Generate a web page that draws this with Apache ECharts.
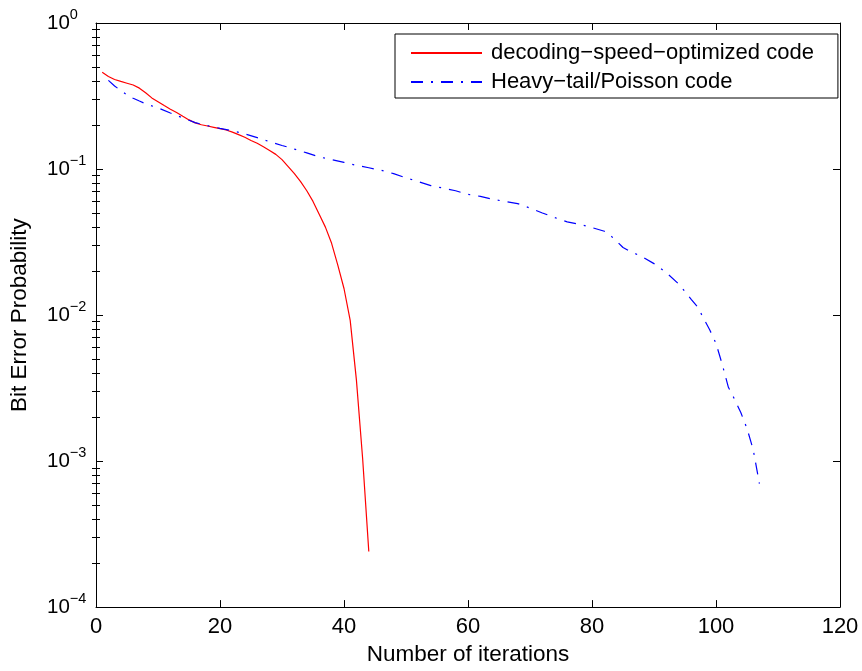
<!DOCTYPE html>
<html><head><meta charset="utf-8">
<script src="https://cdn.jsdelivr.net/npm/echarts@6/dist/echarts.min.js"></script>
<style>html,body{margin:0;padding:0;background:#fff}#c{width:862px;height:671px}</style>
</head><body><div id="c"></div>
<script>
const seriesNames = ['decoding\u2212speed\u2212optimized code', 'Heavy\u2212tail/Poisson code'];

const redX = [1,2,3,4,5,6,7,8,9,10,11,12,13,14,15,16,17,18,19,20,21,22,23,24,25,26,27,28,29,30,31,32,33,34,35,36,37,38,39,40,41,42,43,44];
const redY = [0.46,0.43,0.41,0.398,0.387,0.376,0.358,0.333,0.307,0.289,0.272,0.257,0.244,0.23,0.217,0.207,0.201,0.197,0.193,0.189,0.185,0.179,0.172,0.165,0.157,0.15,0.142,0.134,0.126,0.116,0.104,0.093,0.082,0.071,0.06,0.049,0.04,0.031,0.022,0.0152,0.0092,0.0036,0.00105,0.00024];

const blueX = [2,3,4,5,6,7,8,10,12,14,16,18,20,22,24,26,28,30,32,34,36,38,40,42,44,46,48,50,52,54,56,58,60,62,64,66,68,70,72,74,76,78,80,82,83,84,85,86,88,90,92,94,96,97,98,99,100,101,102,103,104,105,106,107];
const blueY = [0.405,0.37,0.345,0.322,0.305,0.292,0.28,0.262,0.242,0.224,0.208,0.198,0.19,0.183,0.174,0.164,0.154,0.145,0.137,0.129,0.121,0.116,0.111,0.106,0.102,0.098,0.093,0.087,0.082,0.077,0.074,0.071,0.067,0.065,0.062,0.06,0.058,0.054,0.05,0.0465,0.0435,0.0418,0.0397,0.0375,0.035,0.032,0.029,0.0275,0.0252,0.0225,0.0195,0.0163,0.0128,0.0114,0.0095,0.0079,0.0064,0.0046,0.0032,0.00265,0.00215,0.00167,0.0012,0.0007];

const xTickValues = [0,20,40,60,80,100,120];
const yDecades = [1e-4,1e-3,1e-2,1e-1,1];
const yMinorMultipliers = [2,3,4,5,6,7,8,9];

const yMinor = [];
for (let i = 0; i < yDecades.length - 1; i++) {
  for (const m of yMinorMultipliers) yMinor.push(+(m * yDecades[i]).toPrecision(3));
}

const FONT = 'Liberation Sans, Arial, Helvetica, sans-serif';
const black = '#000';

function pairs(xs, ys) { return xs.map((x, i) => [x, ys[i]]); }

function yLabel(v) {
  const e = Math.round(Math.log10(v));
  const s = e < 0 ? '\u2212' + (-e) : String(e);
  return '{b|10}{s|' + s + '}';
}

const baseX = {
  type: 'value', min: 0, max: 120, interval: 20,
  splitLine: { show: false },
  axisLine: { show: true, onZero: false, lineStyle: { color: black, width: 1 } },
  axisTick: { show: true, inside: true, length: 7, lineStyle: { color: black } }
};
const baseY = {
  type: 'log', logBase: 10, min: 1e-4, max: 1,
  splitLine: { show: false },
  axisLine: { show: true, onZero: false, lineStyle: { color: black, width: 1 } },
  axisTick: { show: true, inside: true, length: 7, lineStyle: { color: black }, customValues: yDecades },
  axisLabel: { show: false }
};

const option = {
  backgroundColor: '#fff',
  animation: false,
  grid: { left: 94, right: 22, top: 23, bottom: 60, containLabel: false },
  legend: {
    data: seriesNames,
    orient: 'vertical',
    left: 395, top: 34,
    padding: [8, 24, 5, 15],
    itemGap: 7,
    itemWidth: 71, itemHeight: 14,
    backgroundColor: '#fff',
    borderColor: black, borderWidth: 1, borderRadius: 0,
    itemStyle: { opacity: 0 },
    textStyle: { fontSize: 22, lineHeight: 22, color: black, fontFamily: FONT, padding: [0, 0, 0, 4] }
  },
  xAxis: [
    Object.assign({}, baseX, {
      position: 'bottom',
      axisLabel: { show: true, fontSize: 22, color: black, fontFamily: FONT, margin: 9, customValues: xTickValues },
      name: 'Number of iterations', nameLocation: 'middle', nameGap: 34,
      nameTextStyle: { fontSize: 22.5, color: black, fontFamily: FONT }
    }),
    Object.assign({}, baseX, { position: 'top', axisLabel: { show: false } })
  ],
  yAxis: [
    Object.assign({}, baseY, {
      position: 'left',
      axisLabel: {
        show: true, align: 'left', margin: 49, formatter: yLabel, customValues: yDecades,
        rich: {
          b: { fontSize: 20.5, color: black, fontFamily: FONT, lineHeight: 32 },
          s: { fontSize: 14.5, color: black, fontFamily: FONT, lineHeight: 14, verticalAlign: 'top' }
        }
      },
      name: 'Bit Error Probability', nameLocation: 'middle', nameGap: 65, nameRotate: 90,
      nameTextStyle: { fontSize: 22.5, color: black, fontFamily: FONT }
    }),
    Object.assign({}, baseY, {
      position: 'left', axisLine: { show: false },
      axisTick: { show: true, inside: true, length: 4, lineStyle: { color: black }, customValues: yMinor }
    }),
    Object.assign({}, baseY, { position: 'right' }),
    Object.assign({}, baseY, {
      position: 'right', axisLine: { show: false },
      axisTick: { show: true, inside: true, length: 4, lineStyle: { color: black }, customValues: yMinor }
    })
  ],
  series: [
    {
      name: seriesNames[0], type: 'line', xAxisIndex: 0, yAxisIndex: 0,
      data: pairs(redX, redY), symbol: 'none', showSymbol: false, smooth: false,
      lineStyle: { color: '#ff0000', width: 1.2 }, itemStyle: { color: '#ff0000' }
    },
    {
      name: seriesNames[1], type: 'line', xAxisIndex: 0, yAxisIndex: 0,
      data: pairs(blueX, blueY), symbol: 'none', showSymbol: false, smooth: false,
      lineStyle: { color: '#0000ff', width: 1.2, type: [12, 8, 2, 8] }, itemStyle: { color: '#0000ff' }
    }
  ]
};

const chart = echarts.init(document.getElementById('c'), null, { renderer: 'canvas' });
chart.setOption(option);
</script>
</body></html>
